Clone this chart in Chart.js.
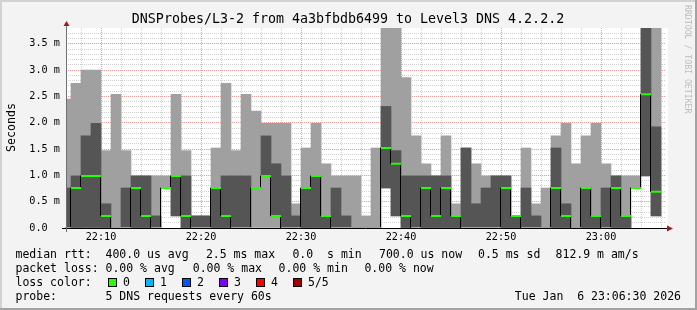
<!DOCTYPE html>
<html>
<head>
<meta charset="utf-8">
<script src="https://cdn.jsdelivr.net/npm/chart.js@4/dist/chart.umd.min.js"></script>
<style>
  html, body { margin: 0; padding: 0; background: #f3f3f3; }
  #chart { display: block; }
</style>
</head>
<body>
<canvas id="chart" width="697" height="310"></canvas>
<script>
// minutes past 22:00, start of each 60s probe round
const minuteStarts = [6, 7, 8, 9, 10, 11, 12, 13, 14, 15, 16, 17, 18, 19, 20, 21, 22, 23, 24, 25,
  26, 27, 28, 29, 30, 31, 32, 33, 34, 35, 36, 37, 38, 39, 40, 41, 42, 43, 44, 45,
  46, 47, 48, 49, 50, 51, 52, 53, 54, 55, 56, 57, 58, 59, 60, 61, 62, 63, 64, 65];

// sorted ping rtts per round, in ms (3.8 = clipped at the top of the graph)
const pingMin = [0, 0, 0, 0, 0, 0, 0, 0, 0, 0, 0.76, 0.23, 0, 0, 0, 0, 0, 0, 0, 0,
  0, 0, 0, 0, 0, 0, 0, 0, 0, 0, 0, 0, 0.76, 0.23, 0, 0, 0, 0, 0, 0,
  0, 0, 0, 0, 0, 0, 0, 0, 0, 0, 0, 0, 0, 0, 0, 0, 0, 0.76, 0.99, 0.23];
const pingLow = [0, 0, 0, 0, 0, 0, 0, 0, 0, 0, 0.76, 0.23, 0, 0, 0, 0, 0, 0, 0, 0.76,
  0.99, 0.23, 0, 0, 0, 0, 0, 0, 0, 0, 0, 0, 0.76, 0.23, 0, 0, 0, 0, 0, 0,
  0, 0, 0, 0, 0, 0, 0, 0, 0, 0, 0, 0, 0, 0, 0, 0, 0, 0.76, 0.99, 0.23];
const pingMedian = [0, 0.76, 0.99, 0.99, 0.23, 0, 0, 0.76, 0.23, 0, 0.76, 0.99, 0.23, 0, 0, 0.76, 0.23, 0, 0, 0.76,
  0.99, 0.23, 0, 0, 0.76, 0.99, 0.23, 0, 0, 0, 0, 0, 1.52, 1.22, 0.23, 0, 0.76, 0.23, 0.76, 0.23,
  0, 0, 0, 0, 0.76, 0.23, 0, 0, 0, 0.76, 0.23, 0, 0.76, 0.23, 0, 0.76, 0.23, 0.76, 2.54, 0.69];
const pingHigh = [0.76, 0.99, 1.75, 1.99, 0.46, 0, 0.76, 0.99, 0.99, 0.23, 0.76, 0.99, 0.99, 0.23, 0.23, 0.76, 0.99, 0.99, 0.99, 0.76,
  1.75, 1.22, 0.99, 0.23, 0.76, 0.99, 0.23, 0.76, 0.23, 0, 0, 0, 2.31, 1.47, 0.99, 0.99, 0.99, 0.99, 0.99, 0.23,
  1.52, 0.46, 0.76, 0.99, 0.99, 0.23, 0.76, 0.23, 0, 1.52, 0.46, 0, 0.76, 0.23, 0.76, 0.99, 0.23, 0.76, 3.8, 1.92];
const pingMax = [2.45, 2.75, 3.0, 3.0, 1.47, 2.54, 1.47, 0.99, 0.99, 0.99, 0.99, 2.54, 1.47, 0.23, 0.23, 1.52, 2.75, 1.47, 2.54, 2.22,
  1.99, 1.99, 1.99, 0.46, 1.52, 1.99, 1.22, 0.99, 0.99, 0.99, 0.23, 1.52, 3.8, 3.8, 2.86, 1.75, 1.22, 0.99, 1.75, 0.46,
  1.52, 1.22, 0.99, 0.99, 0.99, 0.23, 1.52, 0.46, 0.76, 1.75, 1.99, 1.22, 1.75, 1.99, 1.22, 0.99, 0.99, 0.99, 3.8, 3.8];

const xMajorTicks = [10, 20, 30, 40, 50, 60];
const xTickLabels = ["22:10", "22:20", "22:30", "22:40", "22:50", "23:00"];
const yMajorTicks = [0, 0.5, 1.0, 1.5, 2.0, 2.5, 3.0, 3.5];
const yTickLabels = ["0.0  ", "0.5 m", "1.0 m", "1.5 m", "2.0 m", "2.5 m", "3.0 m", "3.5 m"];

const lossLabels = ["0", "1", "2", "3", "4", "5/5"];
const lossColors = ["#26ff00", "#00b8ff", "#0059ff", "#7e00ff", "#ff0000", "#a10000"];

const MONO = "'DejaVu Sans Mono', monospace";
const GRID_MINOR = "#cfcfcf";
const GRID_MAJOR = "#e6a0a0";

// legend rows: [text, character column]
const legendRows = [
  [["median rtt:", 0], ["400.0 us avg", 13], ["2.5 ms max", 27.5], ["0.0  s min", 40],
   ["700.0 us now", 52.5], ["0.5 ms sd", 66.8], ["812.9 m am/s", 78]],
  [["packet loss:", 0], ["0.00 % avg", 13], ["0.00 % max", 25.6], ["0.00 % min", 38], ["0.00 % now", 50.4]],
  [["loss color:", 0]],
  [["probe:", 0], ["5 DNS requests every 60s", 13]],
];

const isMajor = (v, step) => Math.abs(v / step - Math.round(v / step)) < 1e-6;

const rrdFrame = {
  id: "rrdFrame",
  beforeDraw(chart) {
    const { ctx, chartArea: a, width, height } = chart;
    ctx.save();
    ctx.fillStyle = "#f3f3f3";
    ctx.fillRect(0, 0, width, height);
    ctx.fillStyle = "#d2d2d2";
    ctx.fillRect(0, 0, width, 2);
    ctx.fillRect(0, 0, 2, height);
    ctx.fillStyle = "#a2a2a2";
    ctx.fillRect(0, height - 2, width, 2);
    ctx.fillRect(width - 2, 0, 2, height);
    ctx.fillStyle = "#ffffff";
    ctx.fillRect(a.left, a.top, a.right - a.left + 2, a.bottom - a.top);
    ctx.restore();
  },
  // the median step line sits on the pixel column left of each boundary, like rrdtool
  beforeDatasetDraw(chart, args) {
    if (args.index === 2) {
      chart.ctx.save();
      chart.ctx.translate(-0.5, 0);
    }
  },
  afterDatasetDraw(chart, args) {
    if (args.index === 2) chart.ctx.restore();
  },
  afterDraw(chart) {
    const { ctx, chartArea: a } = chart;
    ctx.save();
    // axes
    ctx.strokeStyle = "#000";
    ctx.lineWidth = 1;
    ctx.beginPath();
    ctx.moveTo(62, a.bottom + 0.5);
    ctx.lineTo(a.right + 3, a.bottom + 0.5);
    ctx.stroke();
    ctx.strokeStyle = "#707070";
    ctx.beginPath();
    ctx.moveTo(a.left + 0.5, a.bottom + 4);
    ctx.lineTo(a.left + 0.5, a.top - 3);
    ctx.stroke();
    ctx.fillStyle = "#9c1c1c";
    ctx.beginPath();
    ctx.moveTo(a.right + 1, a.bottom - 2.5);
    ctx.lineTo(a.right + 7, a.bottom + 0.5);
    ctx.lineTo(a.right + 1, a.bottom + 3.5);
    ctx.closePath();
    ctx.fill();
    ctx.beginPath();
    ctx.moveTo(a.left - 2.5, a.top - 2);
    ctx.lineTo(a.left + 0.5, a.top - 7);
    ctx.lineTo(a.left + 3.5, a.top - 2);
    ctx.closePath();
    ctx.fill();

    // title
    ctx.fillStyle = "#000";
    ctx.textBaseline = "alphabetic";
    ctx.textAlign = "center";
    ctx.font = "13.3px " + MONO;
    ctx.fillText("DNSProbes/L3-2 from 4a3bfbdb6499 to Level3 DNS 4.2.2.2", 348, 23);

    // y axis title
    ctx.save();
    ctx.translate(15, 127.5);
    ctx.rotate(-Math.PI / 2);
    ctx.font = "11.6px " + MONO;
    ctx.fillText("Seconds", 0, 0);
    ctx.restore();

    // watermark
    ctx.save();
    ctx.translate(685, 5);
    ctx.rotate(Math.PI / 2);
    ctx.textAlign = "left";
    ctx.fillStyle = "#bdbdbd";
    ctx.font = "8.2px " + MONO;
    ctx.fillText("RRDTOOL / TOBI OETIKER", 0, 0);
    ctx.restore();

    // legend
    ctx.font = "11.5px " + MONO;
    ctx.textAlign = "left";
    const cw = ctx.measureText("0").width;
    const x0 = 15.5;
    const baselines = [258, 272, 286, 300];
    legendRows.forEach((row, r) => {
      row.forEach(([text, col]) => ctx.fillText(text, x0 + col * cw, baselines[r]));
    });
    lossLabels.forEach((lab, i) => {
      const bx = 108.5 + i * 37;
      ctx.fillStyle = lossColors[i];
      ctx.fillRect(bx, 278.5, 8, 8);
      ctx.strokeStyle = "#000";
      ctx.strokeRect(bx, 278.5, 8, 8);
      ctx.fillStyle = "#000";
      ctx.fillText(lab, bx + 14.5, baselines[2]);
    });
    ctx.textAlign = "right";
    ctx.fillText("Tue Jan  6 23:06:30 2026", 681, baselines[3]);
    ctx.restore();
  },
};

const smokeBars = (lo, hi) => minuteStarts.map((m, i) => ({ x: m + 0.5, y: [lo[i], hi[i]] }));

const medianSteps = minuteStarts.map((m, i) => ({ x: m, y: pingMedian[i] }));
medianSteps.push({ x: minuteStarts[minuteStarts.length - 1] + 1, y: pingMedian[pingMedian.length - 1] });

const medianTicks = minuteStarts.flatMap((m, i) => [
  { x: m, y: pingMedian[i] }, { x: m + 1, y: pingMedian[i] }, { x: m + 1, y: null },
]);

const barStyle = { borderWidth: 0, barPercentage: 1, categoryPercentage: 1, grouped: false };

new Chart(document.getElementById("chart"), {
  type: "bar",
  data: {
    datasets: [
      { ...barStyle, data: smokeBars(pingMin, pingMax), backgroundColor: "#a0a0a0", order: 4 },
      { ...barStyle, data: smokeBars(pingLow, pingHigh), backgroundColor: "#555555", order: 3 },
      { type: "line", data: medianSteps, stepped: "before", borderColor: "#000", borderWidth: 1,
        pointRadius: 0, order: 2 },
      { type: "line", data: medianTicks, borderColor: "#26ff00", borderWidth: 2, borderCapStyle: "butt",
        pointRadius: 0, spanGaps: false, order: 1 },
    ],
  },
  options: {
    responsive: false,
    animation: false,
    events: [],
    layout: { padding: { left: 0, top: 28, right: 31, bottom: 0 } },
    plugins: { legend: { display: false }, tooltip: { enabled: false } },
    scales: {
      x: {
        type: "linear",
        min: 6.5,
        max: 66.5,
        offset: false,
        afterFit: (s) => { s.height = 82; },
        afterBuildTicks: (s) => {
          const t = [];
          for (let v = 8; v <= 66; v += 2) t.push({ value: v });
          s.ticks = t;
        },
        grid: {
          offset: false,
          drawTicks: false,
          color: (c) => (c.tick && isMajor(c.tick.value, 10) ? GRID_MAJOR : GRID_MINOR),
        },
        border: { display: false, dash: [1, 1] },
        ticks: {
          autoSkip: false,
          maxRotation: 0,
          padding: 3,
          color: "#000",
          font: { family: MONO, size: 10.2 },
          callback: (v) => {
            const i = xMajorTicks.indexOf(Math.round(v));
            return i >= 0 ? xTickLabels[i] : "";
          },
        },
      },
      y: {
        type: "linear",
        min: 0,
        max: 3.8,
        afterFit: (s) => { s.width = 66; },
        afterBuildTicks: (s) => {
          const t = [];
          for (let k = 1; k <= 38; k++) t.push({ value: k / 10 });
          s.ticks = [{ value: 0 }].concat(t.slice(0, 37));
        },
        grid: {
          drawTicks: false,
          color: (c) => (c.tick && isMajor(c.tick.value, 0.5) ? GRID_MAJOR : GRID_MINOR),
        },
        border: { display: false, dash: [1, 1] },
        ticks: {
          autoSkip: false,
          padding: 6,
          color: "#000",
          font: { family: MONO, size: 10.2 },
          callback: (v) => {
            const i = yMajorTicks.findIndex((m) => Math.abs(m - v) < 1e-6);
            return i >= 0 ? yTickLabels[i] : "";
          },
        },
      },
    },
  },
  plugins: [rrdFrame],
});
</script>
</body>
</html>
